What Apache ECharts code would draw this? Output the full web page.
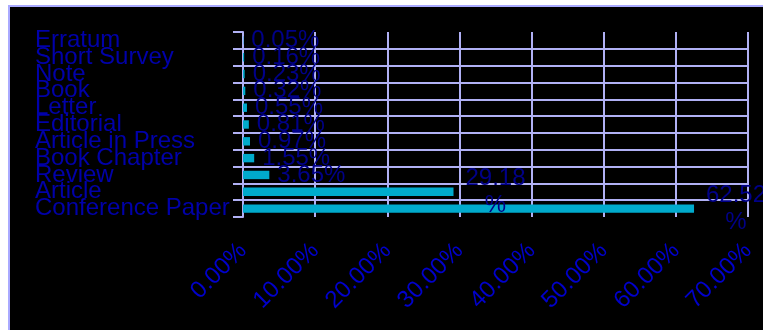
<!DOCTYPE html>
<html>
<head>
<meta charset="utf-8">
<script src="https://cdn.jsdelivr.net/npm/echarts@6/dist/echarts.min.js"></script>
<style>
html,body{margin:0;padding:0;background:#ffffff;}
#chart{width:763px;height:330px;}
</style>
</head>
<body>
<div id="chart"></div>
<script>
const categories = ['Erratum','Short Survey','Note','Book','Letter','Editorial','Article in Press','Book Chapter','Review','Article','Conference Paper'];
const shares = [0.05,0.16,0.23,0.32,0.55,0.81,0.97,1.55,3.65,29.18,62.52];
const tickMin = 0, tickMax = 70, tickStep = 10;

const gridColor = '#b0b0f4';
const chart = echarts.init(document.getElementById('chart'), null, {renderer:'canvas'});
chart.setOption({
  backgroundColor: '#ffffff',
  animation: false,
  graphic: [{
    type: 'rect', z: -10, silent: true,
    shape: {x: 9, y: 6, width: 800, height: 400},
    style: {fill: '#000000', stroke: '#aaaaff', lineWidth: 2}
  }],
  grid: {left: 243, top: 32, width: 505, height: 185, containLabel: false},
  xAxis: {
    type: 'value', min: tickMin, max: tickMax, interval: tickStep,
    axisLine: {show: false}, axisTick: {show: false},
    splitLine: {show: true, lineStyle: {color: gridColor, width: 2}},
    axisLabel: {
      rotate: 45, margin: 30, fontSize: 24, color: '#0000cc',
      fontFamily: 'Liberation Sans, Arial, sans-serif',
      formatter: v => v.toFixed(2) + '%'
    }
  },
  yAxis: {
    type: 'category', data: categories, inverse: true,
    axisLine: {show: true, lineStyle: {color: gridColor, width: 2}},
    axisTick: {show: true, length: 10, interval: 0, lineStyle: {color: gridColor, width: 2}},
    splitLine: {show: true, interval: 0, showMinLine: false, showMaxLine: false, lineStyle: {color: gridColor, width: 2}},
    axisLabel: {
      interval: 0, hideOverlap: false,
      align: 'left', margin: 208, fontSize: 24, color: '#0000aa',
      padding: [4, 0, 0, 0],
      fontFamily: 'Liberation Sans, Arial, sans-serif'
    }
  },
  series: [{
    type: 'bar', data: shares, barWidth: '50%',
    itemStyle: {color: '#00aacc'},
    label: {
      show: true, position: 'right', distance: 42, align: 'center',
      width: 72, overflow: 'breakAll', lineHeight: 27,
      fontSize: 24, color: '#000088',
      padding: [3, 0, 0, 0],
      fontFamily: 'Liberation Sans, Arial, sans-serif',
      formatter: p => p.value.toFixed(2) + '%'
    }
  }]
});
</script>
</body>
</html>
